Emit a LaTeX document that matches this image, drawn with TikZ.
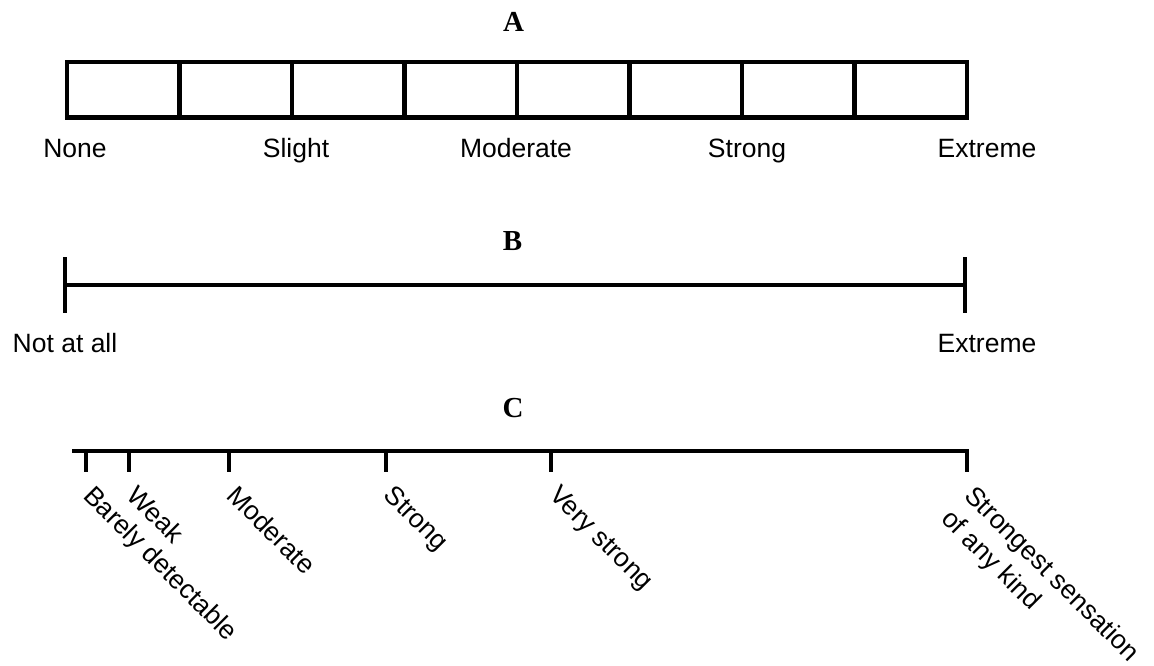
\documentclass[tikz,border=0pt]{standalone}
\usepackage{fontspec}
\usetikzlibrary{calc}
\setmainfont{Liberation Sans}
\newfontfamily\titlefont{Liberation Serif}
\begin{document}
\begin{tikzpicture}[x=1pt,y=-1pt,
  rule/.style={line width=4pt,line join=miter,line cap=butt},
  boxrule/.style={line width=4.6pt,line join=miter},
  title/.style={font=\titlefont\bfseries\fontsize{29}{34}\selectfont,anchor=base,inner sep=0pt},
  lbl/.style={font=\fontsize{26.5}{33}\selectfont,anchor=base,inner sep=0pt},
  slant/.style={font=\fontsize{26.5}{33}\selectfont,anchor=north west,rotate=-45,
                inner sep=3pt,align=left}]
\useasboundingbox (0,0) rectangle (1154,665);

% ---------- A: eight-cell category scale ----------
\node[title] (tA) at (513.5,31) {A};
\coordinate (a0) at (67,62);
\coordinate (a8) at (967,117.5);
\draw[boxrule] (a0) rectangle (a8);
\foreach \i in {1,...,7}{
  \draw[boxrule] ($(a0)+(112.5*\i,0)$) -- ($(a0)+(112.5*\i,55.5)$);
}
\node[lbl] (aNone) at (75,157) {None};
\node[lbl] (aSlight) at (296,157) {Slight};
\node[lbl] (aMod) at (516,157) {Moderate};
\node[lbl] (aStrong) at (747,157) {Strong};
\node[lbl] (aExt) at (987,157) {Extreme};

% ---------- B: visual analogue line ----------
\node[title] (tB) at (512.5,250) {B};
\coordinate (bL) at (65,285);
\coordinate (bR) at (965,285);
\coordinate (bLt) at (65,257);
\coordinate (bLb) at (65,313);
\coordinate (bRt) at (965,257);
\coordinate (bRb) at (965,313);
\draw[rule] (bL) -- (bR);
\draw[rule] (bLt) -- (bLb);
\draw[rule] (bRt) -- (bRb);
\node[lbl] (bNot) at (65,352) {Not at all};
\node[lbl] (bExt) at (987,352) {Extreme};

% ---------- C: labelled magnitude scale ----------
\node[title] (tC) at (513,417) {C};
\coordinate (cL) at (72,451);
\coordinate (cR) at (967,451);
\coordinate (cRb) at (967,472);
\draw[rule] (cL) -- (cR) -- (cRb);
\foreach \n/\x in {bd/86, wk/129, md/229, st/386, vs/551}{
  \coordinate (\n t) at (\x,451);
  \coordinate (\n b) at (\x,472);
  \draw[rule] (\n t) -- (\n b);
}
% rotated labels hang just below the foot of each tick
\node[slant] (cBD) at ($(bdb)+(10,7)$) {Barely detectable};
\node[slant] (cWK) at ($(wkb)+(10,7)$) {Weak};
\node[slant] (cMD) at ($(mdb)+(10,7)$) {Moderate};
\node[slant] (cST) at ($(stb)+(10,7)$) {Strong};
\node[slant] (cVS) at ($(vsb)+(10,7)$) {Very strong};
\node[slant] (cSS) at ($(cRb)+(10,7)$) {Strongest sensation\\of any kind};
\end{tikzpicture}
\end{document}
